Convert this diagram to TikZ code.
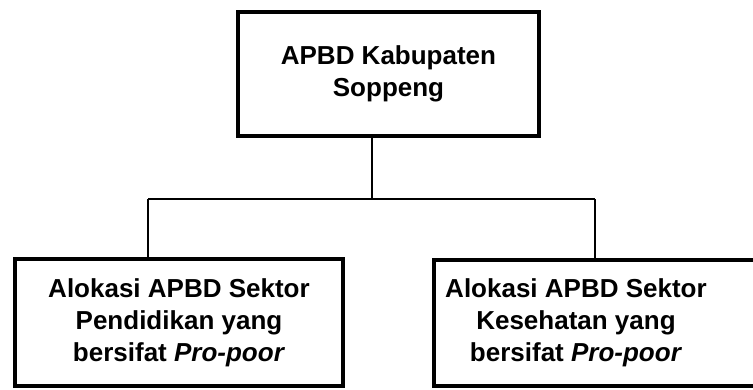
\documentclass[tikz,border=0pt]{standalone}
\usepackage{fontspec}
\setmainfont{Liberation Sans}
\usetikzlibrary{positioning}
\usetikzlibrary{calc}
\usetikzlibrary{fit}

\begin{document}
\begin{tikzpicture}[
        x=1pt, y=-1pt,
        box/.style={draw, rectangle, line width=4pt, align=center, inner sep=0pt,
            font=\fontsize{26}{32}\selectfont\bfseries},
        boxtext/.style={align=center, inner sep=0pt, font=\fontsize{26}{32}\selectfont\bfseries},
        frame/.style={draw, rectangle, line width=4pt, inner sep=0pt},
        line/.style={line width=1.5pt},
    ]
        \useasboundingbox (0,0) rectangle (753,389);

        \node[box, minimum width=301pt, minimum height=124pt] (apbd) at (388.5,74) {APBD Kabupaten\\Soppeng};
        \node[box, minimum width=328pt, minimum height=127pt] (pendidikan) at (179,322.5)
            {Alokasi APBD Sektor\\Pendidikan yang\\bersifat \textit{Pro-poor}};
        \node[boxtext] (kesehatan) at (576,322.5) {Alokasi APBD Sektor\\Kesehatan yang\\bersifat \textit{Pro-poor}};
        \node[frame, fit={(434,260) (770,386)}] (kesbox) {};

        \coordinate (split) at (372,199);
        \coordinate (lefttop) at (148,199);
        \coordinate (righttop) at (595,199);

        \draw[line] (apbd.south -| split) -- (split);
        \draw[line] (lefttop) -- (righttop);
        \draw[line] (lefttop) -- (pendidikan.north -| lefttop);
        \draw[line] (righttop) -- (kesbox.north -| righttop);
    \end{tikzpicture}
\end{document}
